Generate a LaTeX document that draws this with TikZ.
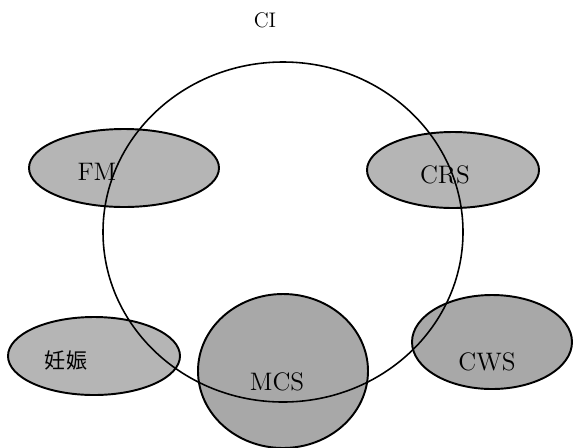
\documentclass[tikz,border=0pt]{standalone}
\usepackage{fontspec}
\newfontfamily\jpfont{Noto Sans CJK JP}
\usetikzlibrary{positioning}

\tikzset{
  blob/.style={draw=black, line width=1.1pt, fill=gray!58},
  darkblob/.style={draw=black, line width=1.1pt, fill=gray!68},
  lbl/.style={font=\Large}
}

\begin{document}
\begin{tikzpicture}[x=0.02cm, y=-0.02cm]

\useasboundingbox (0,0) rectangle (574,447);

% Left upper ellipse
\draw[blob] (124,168) ellipse [x radius=95, y radius=39];

% Right upper ellipse
\draw[blob] (453,170) ellipse [x radius=86, y radius=38];

% Left lower ellipse
\draw[blob] (94,356) ellipse [x radius=86, y radius=39];

% Right lower ellipse
\draw[darkblob] (492,342) ellipse [x radius=80, y radius=47];

% Bottom circle
\draw[darkblob] (283,371) ellipse [x radius=85, y radius=77];

% Big circle on top
\draw[line width=0.9pt] (283,232) ellipse [x radius=180, y radius=170];

% Labels
\node[font=\large] (ci) at (265,20) {CI};
\node[lbl] (fm) at (97,172) {FM};
\node[lbl] (crs) at (445,175) {CRS};
\node[font=\jpfont\large] (ninshin) at (66,360) {妊娠};
\node[lbl] (mcs) at (277,382) {MCS};
\node[lbl] (cws) at (487,362) {CWS};

\end{tikzpicture}
\end{document}
